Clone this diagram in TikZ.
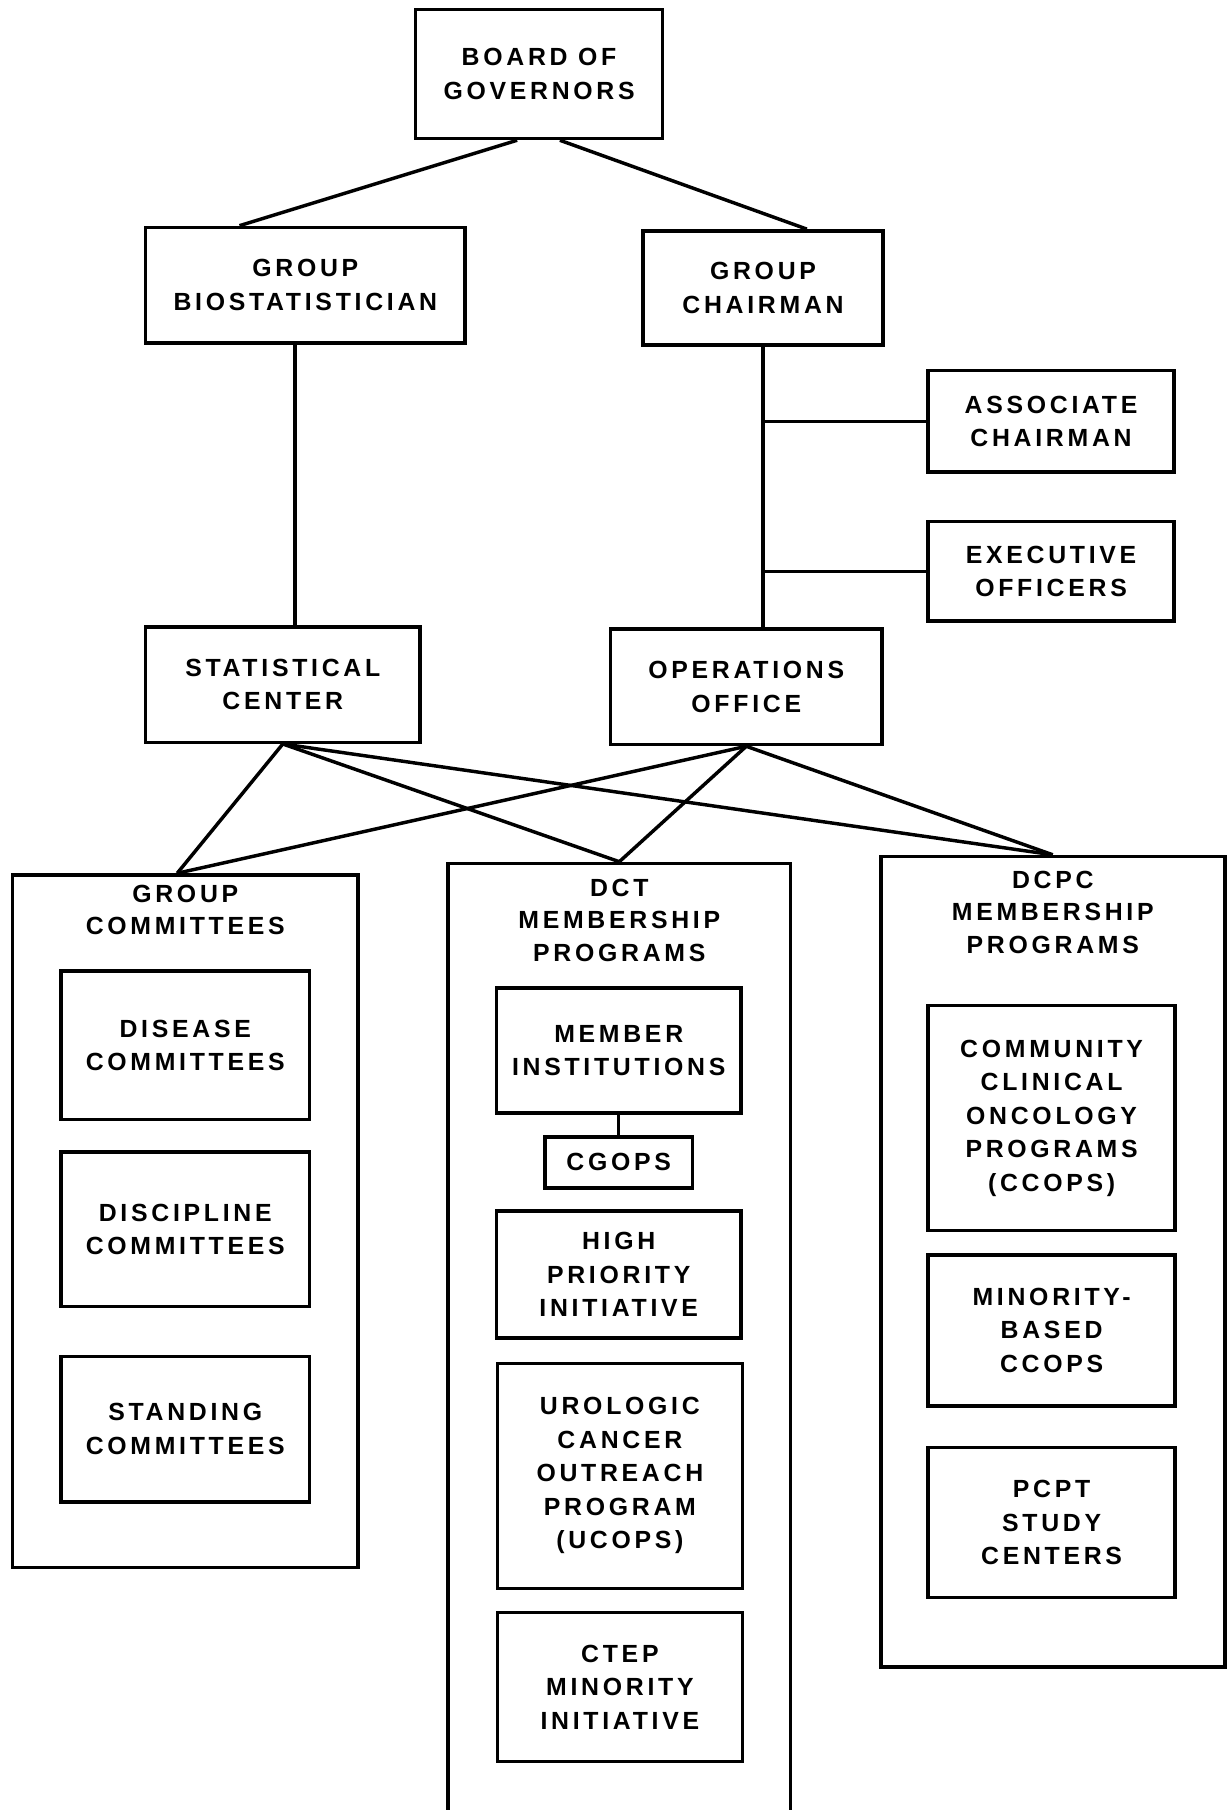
\documentclass[tikz,border=0pt]{standalone}
\usepackage{fontspec}
\setmainfont{Liberation Sans}[LetterSpace=15]
\tikzset{
    unit/.style={draw, line width=3pt, align=center, inner sep=0pt,
        font=\bfseries\fontsize{21.5}{29}\selectfont},
    frame/.style={draw, line width=3pt, inner sep=0pt},
    heading/.style={anchor=north, align=center, inner sep=0pt,
        font=\bfseries\fontsize{21.5}{28}\selectfont},
    link/.style={line width=3pt},
}

\begin{document}
\begin{tikzpicture}[x=1pt, y=-1pt]
    \useasboundingbox (0,0) rectangle (1064,1568);
    \fill[white] (0,0) rectangle (1064,1568);

    % top of the chart
    \node[unit, minimum width=214pt, minimum height=112pt] (board) at (467,64) {BOARD OF\\GOVERNORS};
    \node[unit, minimum width=277pt, minimum height=100pt] (biostat) at (264.5,247) {GROUP\\BIOSTATISTICIAN};
    \node[unit, minimum width=208pt, minimum height=99pt] (chair) at (661,249.5) {GROUP\\CHAIRMAN};
    \node[unit, minimum width=213pt, minimum height=88pt] (assoc) at (910.5,365) {ASSOCIATE\\CHAIRMAN};
    \node[unit, minimum width=213pt, minimum height=86pt] (exec) at (910.5,495) {EXECUTIVE\\OFFICERS};
    \node[unit, minimum width=238pt, minimum height=100pt] (stat) at (245,593) {STATISTICAL\\CENTER};
    \node[unit, minimum width=235pt, minimum height=100pt] (ops) at (646.5,595) {OPERATIONS\\OFFICE};

    % the three columns
    \node[frame, minimum width=299pt, minimum height=600pt] (grp) at (160.5,1058) {};
    \node[frame, minimum width=297pt, minimum height=842pt] (dct) at (536.5,1169) {};
    \node[frame, minimum width=298pt, minimum height=702pt] (dcpc) at (912,1093) {};
    \node[heading] (grptitle) at ([yshift=-10pt]grp.north) {GROUP\\COMMITTEES};
    \node[heading] (dcttitle) at ([yshift=-15pt]dct.north) {DCT\\MEMBERSHIP\\PROGRAMS};
    \node[heading] (dcpctitle) at ([yshift=-14pt]dcpc.north) {DCPC\\MEMBERSHIP\\PROGRAMS};

    \node[unit, minimum width=215pt, minimum height=129pt] (disease) at (160.5,905.5) {DISEASE\\COMMITTEES};
    \node[unit, minimum width=215pt, minimum height=134pt] (discipline) at (160.5,1065) {DISCIPLINE\\COMMITTEES};
    \node[unit, minimum width=215pt, minimum height=126pt] (standing) at (160.5,1238) {STANDING\\COMMITTEES};

    \node[unit, minimum width=212pt, minimum height=108pt] (member) at (536,910) {MEMBER\\INSTITUTIONS};
    \node[unit, minimum width=128pt, minimum height=44pt] (cgops) at (536,1007) {CGOPS};
    \node[unit, minimum width=212pt, minimum height=110pt] (high) at (536,1104) {HIGH\\PRIORITY\\INITIATIVE};
    \node[unit, minimum width=212pt, minimum height=195pt] (urologic) at (537,1278.5) {UROLOGIC\\CANCER\\OUTREACH\\PROGRAM\\(UCOPS)};
    \node[unit, minimum width=212pt, minimum height=129pt] (ctep) at (537,1461.5) {CTEP\\MINORITY\\INITIATIVE};

    \node[unit, minimum width=214pt, minimum height=195pt] (ccop) at (911,968.5) {COMMUNITY\\CLINICAL\\ONCOLOGY\\PROGRAMS\\(CCOPS)};
    \node[unit, minimum width=214pt, minimum height=131pt] (minority) at (911,1152.5) {MINORITY-\\BASED\\CCOPS};
    \node[unit, minimum width=214pt, minimum height=130pt] (pcpt) at (911,1319) {PCPT\\STUDY\\CENTERS};

    % connectors
    \draw[link] ([xshift=-19pt]board.south) -- ([xshift=-57pt]biostat.north);
    \draw[link] ([xshift=18pt]board.south) -- ([xshift=38pt]chair.north);
    \draw[link] ([xshift=-9pt]biostat.south) -- ([xshift=-9pt]biostat.south |- stat.north);
    \draw[link] (chair.south) -- (chair.south |- ops.north);
    \draw[link] (assoc.west) -- (assoc.west -| chair.south);
    \draw[link] (exec.west) -- (exec.west -| chair.south);
    \foreach \col/\dx in {grp/-7pt, dct/0pt, dcpc/0pt} {
        \draw[link] (stat.south) -- ([xshift=\dx]\col.north);
        \draw[link] (ops.south) -- ([xshift=\dx]\col.north);
    }
    \draw[link] (member.south) -- (cgops.north);
\end{tikzpicture}
\end{document}
